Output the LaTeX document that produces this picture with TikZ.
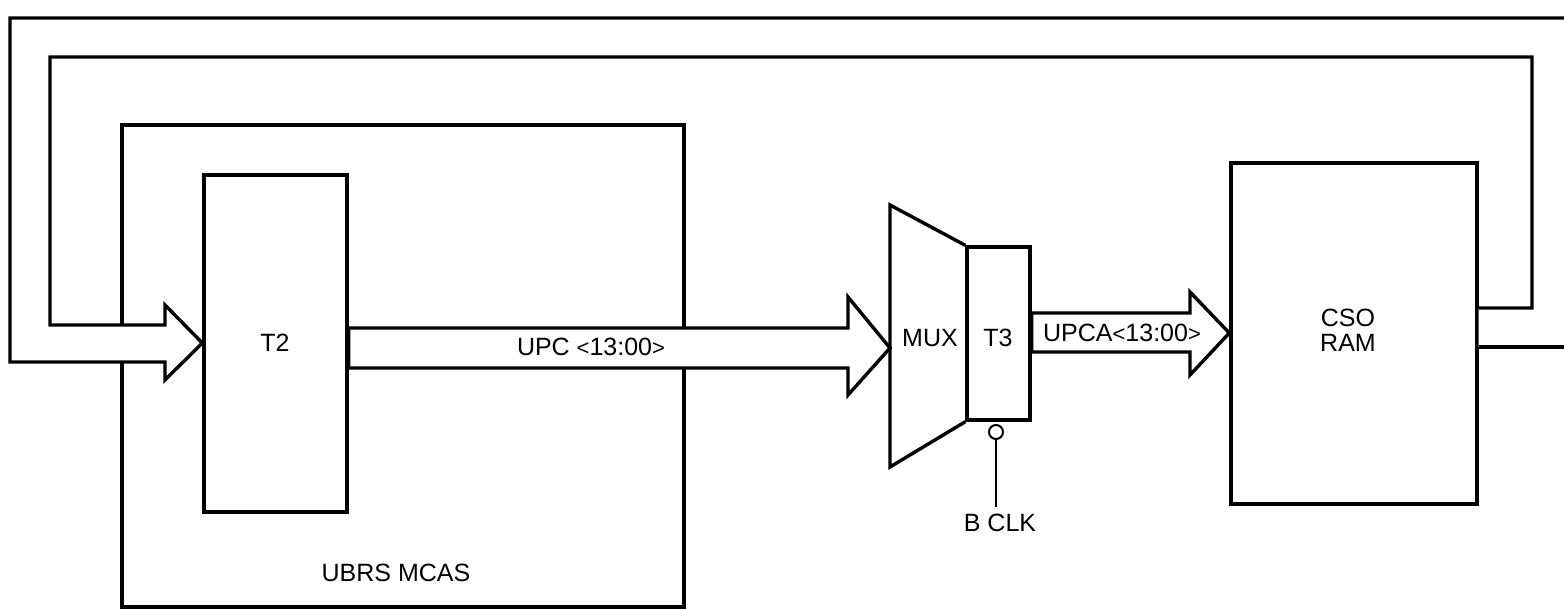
\documentclass[tikz,border=0pt]{standalone}
\usepackage{fontspec}
\setmainfont{Liberation Sans}
\usetikzlibrary{calc}

\begin{document}
\begin{tikzpicture}[x=1pt,y=-1pt,
  font=\fontsize{25}{25}\selectfont,
  ln/.style={line width=3.4pt,line join=miter},
  blk/.style={ln,draw,inner sep=0pt},
  bus/.style={ln,draw,fill=white},
  lbl/.style={inner sep=0pt,align=center}]
\useasboundingbox (0,0) rectangle (1564,610);
% boxes
\node[blk,minimum width=562pt,minimum height=482pt](ubrs) at (403,366){};
\node[blk,minimum width=143pt,minimum height=337pt](t2) at (275.5,343.5){};
\node[blk,minimum width=63pt,minimum height=173pt](t3) at (998.5,333.5){};
\node[blk,minimum width=246pt,minimum height=341pt](cs) at (1354,333.5){};
\coordinate (mt) at (890,205);
\coordinate (mb) at (890,467);
\draw[ln] (t3.north west) -- (mt) -- (mb) -- (t3.south west);
\node[lbl](t2l) at (275,343){T2};
\node[lbl](muxl) at (930,338){MUX};
\node[lbl](t3l) at (998,338){T3};
\node[lbl](csl) at (1348,330){CSO\\RAM};
\node[lbl](ubrsl) at (396,573){UBRS MCAS};
\node[lbl](inext) at (733,38){I\_NEXT};
% I_NEXT loop
\fill[white] (1564,18) -- (10,18) -- (10,362) -- (165,362) -- (165,380) -- (t2.west |- t2l)
  -- (165,305) -- (165,325) -- (50,325) -- (50,57) -- (1532,57) -- (1532,308)
  -- (cs.east |- 0,308) -- (cs.east |- 0,347) -- (1564,347) -- cycle;
\draw[ln] (1564,18) -- (10,18) -- (10,362) -- (165,362) -- (165,380) -- (t2.west |- t2l)
  -- (165,305) -- (165,325) -- (50,325) -- (50,57) -- (1532,57) -- (1532,308) -- (cs.east |- 0,308);
\draw[ln] (cs.east |- 0,347) -- (1564,347);
% UPC and UPCA
\draw[bus] (t2.east |- 0,328) -- (848,328) -- (848,297) -- (mt |- 0,348) -- (848,395) -- (848,368)
  -- (t2.east |- 0,368) -- cycle;
\node[lbl](upc) at (591,347){UPC {\fontsize{22}{22}\selectfont<}13:00{\fontsize{22}{22}\selectfont>}};
\draw[bus] (t3.east |- 0,313) -- (1190,313) -- (1190,292) -- (cs.west |- 0,333) -- (1190,375) -- (1190,352)
  -- (t3.east |- 0,352) -- cycle;
\node[lbl](upca) at (1122,333){UPCA{\fontsize{22}{22}\selectfont<}13:00{\fontsize{22}{22}\selectfont>}};
% clock
\node[circle,draw,line width=2pt,inner sep=0pt,minimum size=14pt,fill=white](bub) at (996,432){};
\node[lbl](clk) at (1000,523){B CLK};
\draw[line width=2.5pt,shorten >=7pt] (bub) -- (bub |- clk.north);
\end{tikzpicture}
\end{document}
